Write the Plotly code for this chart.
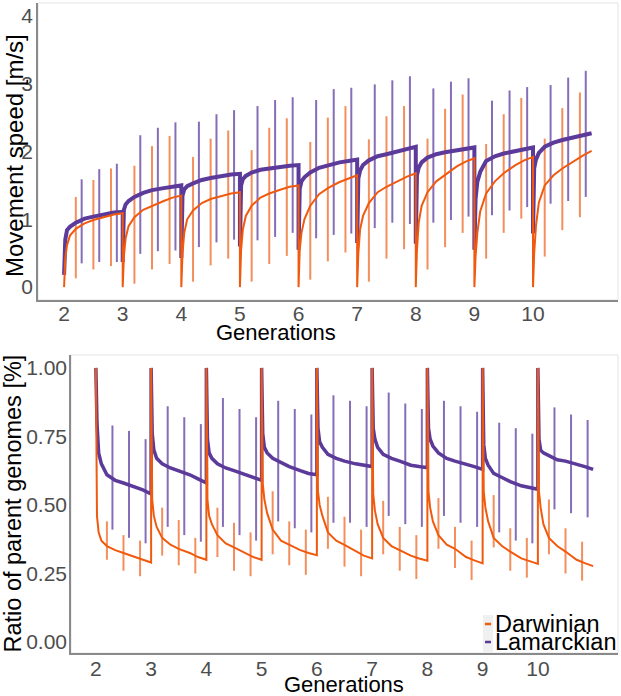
import plotly.graph_objects as go

# ---------------- data ----------------
generations = [2, 3, 4, 5, 6, 7, 8, 9, 10]
curve_offsets = [0, 0.02, 0.05, 0.1, 0.2, 0.35, 0.5, 0.7, 0.85, 1.0]
err_offsets_darwin = [0.2, 0.5, 0.8]
err_offsets_lamarck = [0.3, 0.6, 0.9]

speed_lamarck = [
    [0.18, 0.70, 0.84, 0.89, 0.95, 1.01, 1.04, 1.08, 1.10, 1.11],
    [0.37, 1.14, 1.22, 1.27, 1.33, 1.39, 1.43, 1.46, 1.48, 1.50],
    [0.43, 1.35, 1.44, 1.49, 1.53, 1.58, 1.61, 1.64, 1.66, 1.67],
    [0.60, 1.50, 1.59, 1.64, 1.69, 1.73, 1.75, 1.77, 1.79, 1.80],
    [0.55, 1.45, 1.56, 1.62, 1.69, 1.76, 1.80, 1.84, 1.86, 1.88],
    [0.65, 1.60, 1.72, 1.80, 1.87, 1.93, 1.96, 2.01, 2.04, 2.07],
    [0.64, 1.65, 1.76, 1.84, 1.91, 1.96, 1.99, 2.02, 2.04, 2.06],
    [0.55, 1.30, 1.55, 1.70, 1.86, 1.93, 1.97, 2.01, 2.03, 2.06],
    [0.79, 1.75, 1.88, 1.98, 2.07, 2.13, 2.17, 2.21, 2.24, 2.27],
]
speed_darwin = [
    [0.00, 0.42, 0.62, 0.76, 0.86, 0.94, 0.99, 1.04, 1.07, 1.09],
    [0.00, 0.45, 0.72, 0.90, 1.03, 1.14, 1.20, 1.27, 1.32, 1.35],
    [0.00, 0.50, 0.80, 1.00, 1.13, 1.24, 1.30, 1.35, 1.38, 1.40],
    [0.00, 0.55, 0.85, 1.05, 1.20, 1.32, 1.38, 1.44, 1.48, 1.50],
    [0.00, 0.55, 0.80, 1.00, 1.20, 1.37, 1.46, 1.55, 1.60, 1.65],
    [0.00, 0.50, 0.85, 1.05, 1.24, 1.40, 1.48, 1.57, 1.63, 1.68],
    [0.00, 0.55, 0.95, 1.20, 1.40, 1.56, 1.66, 1.78, 1.85, 1.90],
    [0.00, 0.45, 0.80, 1.12, 1.38, 1.56, 1.68, 1.80, 1.87, 1.92],
    [0.00, 0.50, 0.90, 1.25, 1.50, 1.65, 1.75, 1.86, 1.94, 2.01],
]
speed_err_darwin = [  # (low, high) per error bar
    [(0.13, 1.33), (0.26, 1.58), (0.31, 1.75)],
    [(0.05, 1.79), (0.26, 2.08), (0.34, 2.23)],
    [(0.08, 1.92), (0.32, 2.19), (0.42, 2.31)],
    [(0.08, 2.02), (0.34, 2.35), (0.46, 2.49)],
    [(0.11, 2.14), (0.38, 2.50), (0.51, 2.67)],
    [(0.08, 2.18), (0.42, 2.52), (0.56, 2.67)],
    [(0.26, 2.19), (0.59, 2.63), (0.80, 2.84)],
    [(0.42, 2.11), (0.80, 2.55), (1.01, 2.79)],
    [(0.45, 2.19), (0.84, 2.64), (1.03, 2.87)],
]
speed_err_lamarck = [
    [(0.35, 1.59), (0.37, 1.74), (0.37, 1.82)],
    [(0.49, 2.24), (0.53, 2.35), (0.54, 2.43)],
    [(0.59, 2.44), (0.66, 2.55), (0.70, 2.61)],
    [(0.69, 2.67), (0.74, 2.76), (0.80, 2.80)],
    [(0.72, 2.76), (0.77, 2.92), (0.79, 2.94)],
    [(0.87, 2.99), (0.95, 3.05), (0.93, 3.11)],
    [(0.95, 2.93), (0.99, 3.03), (1.04, 3.08)],
    [(1.06, 2.75), (1.13, 2.90), (1.18, 2.95)],
    [(1.23, 2.98), (1.27, 3.09), (1.33, 3.19)],
]

ratio_lamarck = [
    [1.00, 0.80, 0.69, 0.65, 0.61, 0.59, 0.58, 0.565, 0.555, 0.54],
    [1.00, 0.76, 0.70, 0.67, 0.65, 0.635, 0.625, 0.61, 0.595, 0.58],
    [1.00, 0.74, 0.69, 0.67, 0.65, 0.635, 0.625, 0.61, 0.60, 0.59],
    [1.00, 0.76, 0.71, 0.69, 0.67, 0.655, 0.64, 0.625, 0.615, 0.61],
    [1.00, 0.78, 0.73, 0.71, 0.685, 0.67, 0.66, 0.65, 0.645, 0.64],
    [1.00, 0.78, 0.74, 0.71, 0.685, 0.67, 0.66, 0.645, 0.64, 0.636],
    [1.00, 0.78, 0.74, 0.715, 0.69, 0.67, 0.66, 0.65, 0.64, 0.63],
    [1.00, 0.72, 0.67, 0.645, 0.615, 0.60, 0.585, 0.57, 0.562, 0.557],
    [1.00, 0.74, 0.70, 0.69, 0.68, 0.665, 0.66, 0.65, 0.64, 0.63],
]
ratio_darwin = [
    [1.00, 0.46, 0.40, 0.37, 0.35, 0.335, 0.325, 0.31, 0.30, 0.29],
    [1.00, 0.52, 0.46, 0.42, 0.38, 0.355, 0.34, 0.325, 0.31, 0.30],
    [1.00, 0.52, 0.46, 0.43, 0.39, 0.36, 0.345, 0.325, 0.31, 0.30],
    [1.00, 0.58, 0.52, 0.47, 0.41, 0.37, 0.355, 0.335, 0.325, 0.317],
    [1.00, 0.55, 0.50, 0.46, 0.40, 0.37, 0.354, 0.33, 0.315, 0.305],
    [1.00, 0.54, 0.48, 0.43, 0.38, 0.35, 0.335, 0.315, 0.305, 0.297],
    [1.00, 0.55, 0.49, 0.44, 0.39, 0.355, 0.34, 0.31, 0.298, 0.287],
    [1.00, 0.55, 0.49, 0.44, 0.38, 0.35, 0.33, 0.305, 0.295, 0.285],
    [1.00, 0.55, 0.49, 0.43, 0.38, 0.35, 0.33, 0.30, 0.288, 0.277],
]
ratio_err_darwin = [
    [(0.30, 0.44), (0.26, 0.39), (0.24, 0.37)],
    [(0.315, 0.49), (0.28, 0.445), (0.25, 0.38)],
    [(0.31, 0.49), (0.26, 0.435), (0.24, 0.40)],
    [(0.32, 0.55), (0.28, 0.44), (0.245, 0.41)],
    [(0.34, 0.53), (0.275, 0.457), (0.24, 0.41)],
    [(0.32, 0.515), (0.26, 0.42), (0.23, 0.39)],
    [(0.34, 0.525), (0.27, 0.42), (0.226, 0.37)],
    [(0.345, 0.536), (0.26, 0.415), (0.235, 0.38)],
    [(0.32, 0.52), (0.25, 0.415), (0.224, 0.366)],
]
ratio_err_lamarck = [
    [(0.41, 0.79), (0.38, 0.77), (0.36, 0.74)],
    [(0.42, 0.86), (0.39, 0.82), (0.366, 0.795)],
    [(0.42, 0.89), (0.39, 0.85), (0.37, 0.82)],
    [(0.44, 0.88), (0.415, 0.85), (0.40, 0.83)],
    [(0.435, 0.90), (0.435, 0.88), (0.42, 0.86)],
    [(0.46, 0.91), (0.43, 0.87), (0.42, 0.85)],
    [(0.46, 0.88), (0.435, 0.86), (0.42, 0.84)],
    [(0.40, 0.80), (0.37, 0.78), (0.36, 0.76)],
    [(0.484, 0.856), (0.47, 0.83), (0.455, 0.81)],
]

series_names = ["Darwinian", "Lamarckian"]
x_ticks = [2, 3, 4, 5, 6, 7, 8, 9, 10]
speed_ticks = [0, 1, 2, 3, 4]
ratio_ticks = [0, 0.25, 0.5, 0.75, 1.0]

# ---------------- style ----------------
ORANGE = "#F05A0F"
PURPLE = "#5B3A9A"
ORANGE_ERR = "rgba(240,100,30,0.72)"
PURPLE_ERR = "rgba(94,60,160,0.75)"
FONT = "Liberation Sans, Arial, sans-serif"
W, H = 621, 696


def curve_xy(vals):
    xs, ys = [], []
    for g, row in zip(generations, vals):
        for o, v in zip(curve_offsets, row):
            xs.append(g + o)
            ys.append(v)
    return xs, ys


def err_xy(errs, offs):
    xs, ys = [], []
    for g, row in zip(generations, errs):
        for o, (lo, hi) in zip(offs, row):
            xs += [g + o, g + o, None]
            ys += [lo, hi, None]
    return xs, ys


fig = go.Figure()

panels = [
    ("x", "y", speed_darwin, speed_lamarck, speed_err_darwin, speed_err_lamarck, 4.0),
    ("x2", "y2", ratio_darwin, ratio_lamarck, ratio_err_darwin, ratio_err_lamarck, 3.5),
]
for xa, ya, dar, lam, edar, elam, lw_l in panels:
    ex, ey = err_xy(edar, err_offsets_darwin)
    fig.add_trace(go.Scatter(x=ex, y=ey, mode="lines", xaxis=xa, yaxis=ya,
                             line=dict(color=ORANGE_ERR, width=2), showlegend=False, hoverinfo="skip"))
    ex, ey = err_xy(elam, err_offsets_lamarck)
    fig.add_trace(go.Scatter(x=ex, y=ey, mode="lines", xaxis=xa, yaxis=ya,
                             line=dict(color=PURPLE_ERR, width=2), showlegend=False, hoverinfo="skip"))
    cx, cy = curve_xy(lam)
    fig.add_trace(go.Scatter(x=cx, y=cy, mode="lines", xaxis=xa, yaxis=ya, name=series_names[1],
                             line=dict(color=PURPLE, width=lw_l), showlegend=False))
    cx, cy = curve_xy(dar)
    fig.add_trace(go.Scatter(x=cx, y=cy, mode="lines", xaxis=xa, yaxis=ya, name=series_names[0],
                             line=dict(color=ORANGE, width=2), showlegend=False))

axis_common = dict(showgrid=False, zeroline=False, showline=True, linecolor="#8A8A8A",
                   linewidth=1.5, ticks="", tickfont=dict(family=FONT, size=21, color="#4D4D4D"))

fig.update_layout(
    width=W, height=H,
    margin=dict(l=0, r=0, t=0, b=0, autoexpand=False),
    paper_bgcolor="white", plot_bgcolor="white",
    xaxis=dict(domain=[38 / W, 618 / W], range=[1.555, 11.45], anchor="y",
               tickvals=x_ticks, ticklabelstandoff=-6, **axis_common),
    yaxis=dict(domain=[1 - 300 / H, 1 - 3 / H], range=[-0.19, 4.19], anchor="x",
               tickvals=speed_ticks, ticklabelstandoff=-1, **axis_common),
    xaxis2=dict(domain=[71 / W, 618 / W], range=[1.55, 11.45], anchor="y2",
                tickvals=x_ticks, ticklabelstandoff=-4, **axis_common),
    yaxis2=dict(domain=[1 - 653 / H, 1 - 355 / H], range=[-0.04, 1.047], anchor="x2",
                tickvals=ratio_ticks, tickformat=".2f", ticklabelstandoff=-2, **axis_common),
)

# light panel border (top / right)
for xr, yr in [("x domain", "y domain"), ("x2 domain", "y2 domain")]:
    fig.add_shape(type="rect", xref=xr, yref=yr, x0=0, x1=1, y0=0, y1=1,
                  line=dict(color="#E3E3E3", width=1), layer="below")


def px(x):
    return x / W


def py(y):
    return 1 - y / H


title_font = dict(family=FONT, size=22, color="black")
fig.add_annotation(text="Generations", x=px(276), y=py(332), xref="paper", yref="paper",
                   showarrow=False, font=title_font, xanchor="center", yanchor="middle")
fig.add_annotation(text="Generations", x=px(344), y=py(684), xref="paper", yref="paper",
                   showarrow=False, font=title_font, xanchor="center", yanchor="middle")
fig.add_annotation(text="Movement speed [m/s]", x=px(14), y=py(156), xref="paper", yref="paper",
                   showarrow=False, textangle=-90, font=dict(family=FONT, size=24, color="black"),
                   xanchor="center", yanchor="middle")
fig.add_annotation(text="Ratio of parent genomes [%]", x=px(12.5), y=py(504), xref="paper", yref="paper",
                   showarrow=False, textangle=-90, font=dict(family=FONT, size=23.5, color="black"),
                   xanchor="center", yanchor="middle")

# legend (inside bottom panel, bottom right)
fig.add_shape(type="rect", xref="paper", yref="paper", x0=px(483), x1=px(493), y0=py(652), y1=py(615),
              fillcolor="#F0F0F0", line=dict(width=0))
for name, col, yc in [(series_names[0], ORANGE, 624), (series_names[1], PURPLE, 642)]:
    fig.add_shape(type="line", xref="paper", yref="paper", x0=px(485), x1=px(491), y0=py(yc), y1=py(yc),
                  line=dict(color=col, width=2.5))
    fig.add_annotation(text=name, x=px(492.5), y=py(yc), xref="paper", yref="paper", showarrow=False,
                       font=dict(family=FONT, size=23.5, color="black"), xanchor="left", yanchor="middle")

fig.write_html("out.html", config={"displayModeBar": False},
               post_script="document.body.style.margin='0px';")
